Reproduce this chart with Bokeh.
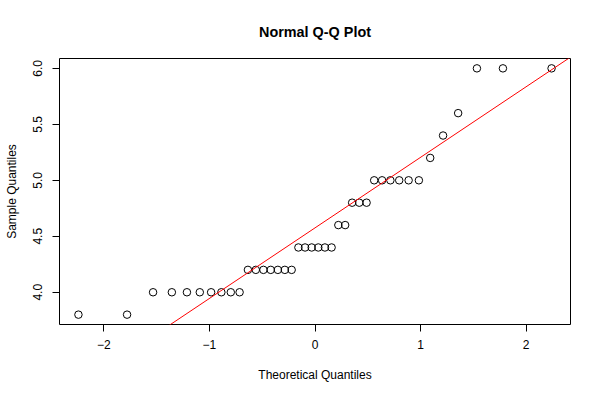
from statistics import NormalDist
from bokeh.plotting import figure
from bokeh.models import Range1d, FixedTicker, ColumnDataSource
from bokeh.embed import file_html
from bokeh.resources import INLINE

# Sample values (sorted): n = 40
sample_values = [3.8, 3.8,
                 4.0, 4.0, 4.0, 4.0, 4.0, 4.0, 4.0, 4.0,
                 4.2, 4.2, 4.2, 4.2, 4.2, 4.2, 4.2,
                 4.4, 4.4, 4.4, 4.4, 4.4, 4.4,
                 4.6, 4.6,
                 4.8, 4.8, 4.8,
                 5.0, 5.0, 5.0, 5.0, 5.0, 5.0,
                 5.2, 5.4, 5.6,
                 6.0, 6.0, 6.0]
x_ticks = [-2, -1, 0, 1, 2]
x_tick_labels = {-2: "\u22122", -1: "\u22121", 0: "0", 1: "1", 2: "2"}
y_ticks = [4.0, 4.5, 5.0, 5.5, 6.0]
y_tick_labels = {4.0: "4.0", 4.5: "4.5", 5.0: "5.0", 5.5: "5.5", 6.0: "6.0"}

n = len(sample_values)
nd = NormalDist()
a = 3.0 / 8 if n <= 10 else 0.5
theoretical = [nd.inv_cdf((i + 1 - a) / (n + 1 - 2 * a)) for i in range(n)]

# qqline through the quartiles (type 7 quantiles)
def quant(v, p):
    v = sorted(v)
    h = (len(v) - 1) * p
    lo = int(h)
    hi = min(lo + 1, len(v) - 1)
    return v[lo] + (h - lo) * (v[hi] - v[lo])

y1, y2 = quant(sample_values, 0.25), quant(sample_values, 0.75)
x1, x2 = nd.inv_cdf(0.25), nd.inv_cdf(0.75)
slope = (y2 - y1) / (x2 - x1)
intercept = y1 - slope * x1

xmin, xmax = min(theoretical), max(theoretical)
ymin, ymax = min(sample_values), max(sample_values)
xr = Range1d(xmin - 0.04 * (xmax - xmin), xmax + 0.04 * (xmax - xmin))
yr = Range1d(ymin - 0.04 * (ymax - ymin), ymax + 0.04 * (ymax - ymin))

FONT = "Liberation Sans"

p = figure(width=584, height=384, output_backend="svg", toolbar_location=None,
           x_range=xr, y_range=yr,
           min_border_left=59, min_border_right=14, min_border_top=58, min_border_bottom=57,
           background_fill_color="white", border_fill_color="white")
p.grid.visible = False
p.outline_line_color = "black"
p.outline_line_width = 1
p.outline_line_alpha = 1.0

p.title.text = "Normal Q-Q Plot"
p.title.align = "center"
p.title.text_font = FONT
p.title.text_font_size = "14.4px"
p.title.text_font_style = "bold"
p.title.text_color = "black"
p.title.standoff = 37

for ax in (p.xaxis[0], p.yaxis[0]):
    ax.axis_line_color = None
    ax.major_tick_out = 7
    ax.major_tick_in = 0
    ax.major_tick_line_color = "black"
    ax.minor_tick_line_color = None
    ax.major_label_text_font = FONT
    ax.major_label_text_font_size = "12px"
    ax.major_label_text_color = "black"
    ax.axis_label_text_font = FONT
    ax.axis_label_text_font_size = "12px"
    ax.axis_label_text_font_style = "normal"
    ax.axis_label_text_color = "black"

p.xaxis.ticker = FixedTicker(ticks=x_ticks)
p.xaxis.major_label_overrides = x_tick_labels
p.xaxis.axis_label = "Theoretical Quantiles"
p.xaxis.major_label_standoff = 8
p.xaxis.axis_label_standoff = 16

p.yaxis.ticker = FixedTicker(ticks=y_ticks)
p.yaxis.major_label_overrides = y_tick_labels
p.yaxis.major_label_orientation = "vertical"
p.yaxis.axis_label = "Sample Quantiles"
p.yaxis.major_label_standoff = 10
p.yaxis.axis_label_standoff = 12

src = ColumnDataSource(dict(x=theoretical, y=sample_values))
p.scatter("x", "y", source=src, marker="circle", size=7.5,
          fill_color=None, line_color="black", line_width=1)

lx = [xr.start, xr.end]
ly = [intercept + slope * v for v in lx]
p.line(lx, ly, line_color="red", line_width=1)

open("out.html", "w").write(file_html(p, INLINE))
